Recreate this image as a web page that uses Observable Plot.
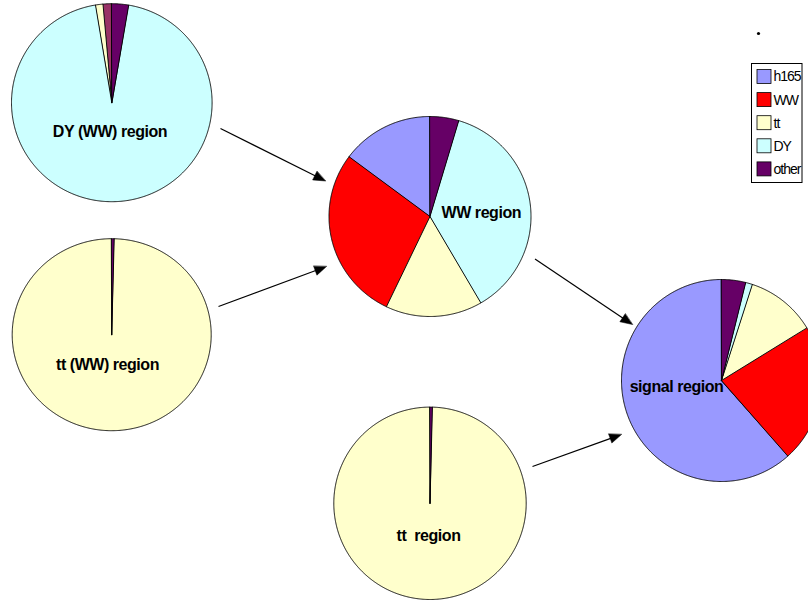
<!DOCTYPE html>
<html><head><meta charset="utf-8">
<script src="https://cdn.jsdelivr.net/npm/d3@7"></script>
<script src="https://cdn.jsdelivr.net/npm/@observablehq/plot@0.6"></script>
<style>body{margin:0;background:#fff}#chart svg{display:block}</style>
</head><body><div id="chart"></div>
<script>
// ---- data ----
const categories = ["h165", "WW", "tt", "DY", "other"];
const categoryColors = ["#9999ff", "#ff0000", "#ffffcc", "#ccffff", "#660066"];
const regionNames = ["DY (WW) region", "tt (WW) region", "WW region", "signal region", "tt  region"];
const dyWWShares   = [0, 1.4, 1.2, 94.7, 2.7];
const ttWWShares   = [0, 0, 99.6, 0, 0.4];
const wwShares     = [14.8, 28.1, 15.5, 37.0, 4.6];
const signalShares = [61.6, 22.2, 11.3, 1.1, 3.9];
const ttShares     = [0, 0, 99.6, 0, 0.4];
const arrowLinks = [
  ["DY (WW) region", "WW region"],
  ["tt (WW) region", "WW region"],
  ["WW region", "signal region"],
  ["tt  region", "signal region"]
];
const sliceColorOverrides = {"DY (WW) region|WW": "#993366"};

// ---- layout (pixels) ----
const W = 808, H = 604;
const pieLayout = [
  {cx: 111.3, cy: 102.2, rx: 100.3, ry: 99,   lx: 109.5, ly: 131.5},
  {cx: 111.2, cy: 334.2, rx: 99.5,  ry: 96,   lx: 107,   ly: 364.5},
  {cx: 429.5, cy: 216,   rx: 101,   ry: 100,  lx: 480.8, ly: 212.5},
  {cx: 721,   cy: 380,   rx: 100,   ry: 101,  lx: 676,   ly: 386},
  {cx: 429.5, cy: 502.8, rx: 96.2,  ry: 96.2, lx: 428,   ly: 535}
];
const arrowLayout = [
  [220, 128, 325, 180.5],
  [218, 306, 326, 266],
  [534.5, 258.5, 632, 324],
  [532, 466, 621, 434]
];
const legendBox = {x1: 751.5, x2: 802, y1: 63.5, y2: 182.5};
const legendRow0 = 76.5, legendStep = 23.1, swatchX = 757, swatchSize = 14, legendTextX = 773;

const allShares = [dyWWShares, ttWWShares, wwShares, signalShares, ttShares];

// ---- build slice polygons ----
const slicePts = [];
allShares.forEach((vals, p) => {
  const L = pieLayout[p];
  const arcs = d3.pie().sort(null).startAngle(0).endAngle(-2 * Math.PI)(vals);
  arcs.forEach((a, i) => {
    if (a.value <= 0) return;
    const id = p + "-" + i;
    const fill = sliceColorOverrides[regionNames[p] + "|" + categories[i]] || categoryColors[i];
    slicePts.push({id, x: L.cx, y: L.cy, fill});
    const n = Math.max(2, Math.ceil(Math.abs(a.endAngle - a.startAngle) / (Math.PI / 360)));
    for (let k = 0; k <= n; k++) {
      const t = a.startAngle + (a.endAngle - a.startAngle) * k / n;
      slicePts.push({id, x: L.cx + L.rx * Math.sin(t), y: L.cy - L.ry * Math.cos(t), fill});
    }
  });
});

// ---- arrows ----
const shafts = [], heads = [];
arrowLinks.forEach((lk, j) => {
  const [x1, y1, x2, y2] = arrowLayout[j];
  const dx = x2 - x1, dy = y2 - y1, len = Math.hypot(dx, dy);
  const ux = dx / len, uy = dy / len, hl = 12, hw = 4.8;
  const bx = x2 - ux * hl, by = y2 - uy * hl;
  shafts.push({from: lk[0], to: lk[1], x1, y1, x2: bx + ux * 2, y2: by + uy * 2});
  const id = "h" + j;
  heads.push({id, x: x2, y: y2});
  heads.push({id, x: bx - uy * hw, y: by + ux * hw});
  heads.push({id, x: bx + uy * hw, y: by - ux * hw});
});

const pieLabels = regionNames.map((name, p) => ({name, x: pieLayout[p].lx, y: pieLayout[p].ly}));
const legendRows = categories.map((c, i) => ({
  c, fill: categoryColors[i],
  y: legendRow0 + legendStep * i
}));

const chart = Plot.plot({
  width: W, height: H, margin: 0,
  x: {domain: [0, W], range: [0, W], axis: null},
  y: {domain: [0, H], range: [0, H], axis: null},
  color: {type: "identity"},
  style: {fontFamily: "'Liberation Sans', Arial, sans-serif", background: "#fff"},
  marks: [
    Plot.line(slicePts, {x: "x", y: "y", z: "id", fill: "fill", stroke: "#000", strokeWidth: 0.9, curve: "linear-closed", strokeLinejoin: "round"}),
    Plot.text(pieLabels, {x: "x", y: "y", text: "name", fontSize: 16, fontWeight: "bold", fill: "#000"}),
    Plot.link(shafts, {x1: "x1", y1: "y1", x2: "x2", y2: "y2", stroke: "#000", strokeWidth: 1.2}),
    Plot.line(heads, {x: "x", y: "y", z: "id", fill: "#000", stroke: "#000", strokeWidth: 0.5, curve: "linear-closed"}),
    Plot.dot([{x: 758, y: 33}], {x: "x", y: "y", r: 1.6, fill: "#000", stroke: null}),
    Plot.rect([legendBox], {x1: "x1", x2: "x2", y1: "y1", y2: "y2", fill: "#fff", stroke: "#000", strokeWidth: 1}),
    Plot.rect(legendRows, {x1: swatchX, x2: swatchX + swatchSize, y1: d => d.y - swatchSize / 2, y2: d => d.y + swatchSize / 2, fill: "fill", stroke: "#000", strokeWidth: 0.8}),
    Plot.text(legendRows, {x: legendTextX, y: "y", text: "c", textAnchor: "start", fontSize: 14, fill: "#000"})
  ]
});
chart.querySelectorAll("text").forEach(t => {
  const s = t.textContent;
  if (regionNames.includes(s)) t.style.letterSpacing = "-0.45px";
  else if (categories.includes(s)) t.style.letterSpacing = "-1px";
});
document.getElementById("chart").appendChild(chart);
</script>
</body></html>
